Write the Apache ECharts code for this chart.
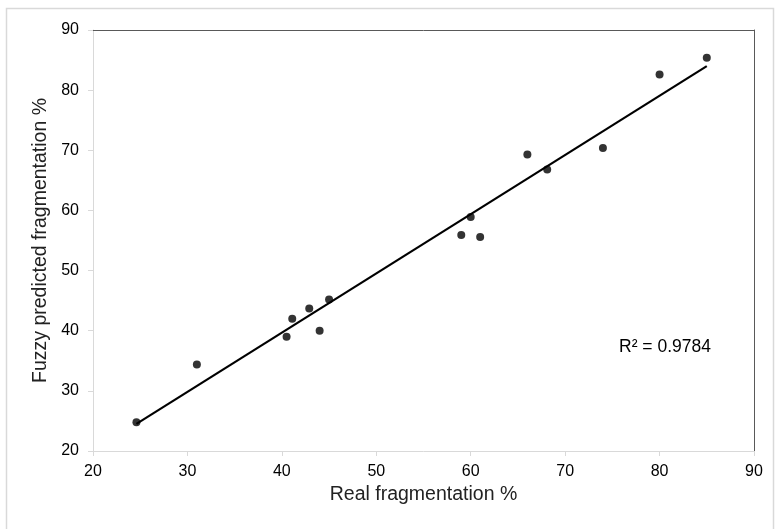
<!DOCTYPE html>
<html>
<head>
<meta charset="utf-8">
<script src="https://cdn.jsdelivr.net/npm/echarts@6/dist/echarts.min.js"></script>
<style>
  html, body { margin: 0; padding: 0; background: #fff; }
  #chart { width: 778px; height: 529px; }
</style>
</head>
<body>
<div id="chart"></div>
<script>
var realFrag  = [24.6, 31.0, 40.5, 41.1, 42.9, 44.0, 45.0, 59.0, 60.0, 61.0, 66.0, 68.1, 74.0, 80.0, 85.0];
var fuzzyFrag = [24.8, 34.4, 39.0, 42.0, 43.7, 40.0, 45.2, 55.9, 58.9, 55.6, 69.3, 66.8, 70.4, 82.6, 85.4];
var xTicks = [20, 30, 40, 50, 60, 70, 80, 90];
var yTicks = [20, 30, 40, 50, 60, 70, 80, 90];
var r2Label = 'R² = 0.9784';

// least squares trend line
function linFit (xs, ys) {
  var n = xs.length, sx = 0, sy = 0, sxx = 0, sxy = 0;
  for (var i = 0; i < n; i++) {
    sx += xs[i]; sy += ys[i];
    sxx += xs[i] * xs[i]; sxy += xs[i] * ys[i];
  }
  var b = (n * sxy - sx * sy) / (n * sxx - sx * sx);
  var a = (sy - b * sx) / n;
  return { a: a, b: b };
}

var fit = linFit(realFrag, fuzzyFrag);
var xMin = Math.min.apply(null, realFrag);
var xMax = Math.max.apply(null, realFrag);
var trend = [[xMin, fit.a + fit.b * xMin], [xMax, fit.a + fit.b * xMax]];

var points = realFrag.map(function (x, i) { return [x, fuzzyFrag[i]]; });

var font = 'Liberation Sans, Arial, sans-serif';
var lightLine = '#d9d9d9';
var darkLine = '#595959';

var myChart = echarts.init(document.getElementById('chart'));
var option = {
  animation: false,
  backgroundColor: '#fff',
  grid: { left: 93, right: 24, top: 30, bottom: 78 },
  graphic: [
    {
      type: 'rect',
      shape: { x: 6.5, y: 8.5, width: 767, height: 540 },
      style: { fill: null, stroke: lightLine, lineWidth: 1.5 },
      silent: true,
      z: -10
    },
    {
      type: 'text',
      left: 619, top: 338,
      style: { text: r2Label, font: '17.5px ' + font, fill: '#000' }
    }
  ],
  xAxis: [
    {
      type: 'value',
      min: xTicks[0], max: xTicks[xTicks.length - 1], interval: 10,
      name: 'Real fragmentation %',
      nameLocation: 'middle', nameGap: 31,
      nameTextStyle: { fontFamily: font, fontSize: 19.5, color: '#222' },
      axisLine: { lineStyle: { color: lightLine, width: 1 } },
      axisTick: { show: true, length: 5, lineStyle: { color: lightLine } },
      axisLabel: { fontFamily: font, fontSize: 16, color: '#000', margin: 13 },
      splitLine: { show: false }
    },
    {
      type: 'value', position: 'top',
      min: xTicks[0], max: xTicks[xTicks.length - 1],
      axisLine: { show: true, lineStyle: { color: darkLine, width: 1 } },
      axisTick: { show: false }, axisLabel: { show: false }, splitLine: { show: false }
    }
  ],
  yAxis: [
    {
      type: 'value',
      min: yTicks[0], max: yTicks[yTicks.length - 1], interval: 10,
      name: 'Fuzzy predicted fragmentation %',
      nameLocation: 'middle', nameGap: 40,
      nameTextStyle: { fontFamily: font, fontSize: 19.5, color: '#222' },
      axisLine: { show: true, lineStyle: { color: lightLine, width: 1 } },
      axisTick: { show: true, length: 5, lineStyle: { color: lightLine } },
      axisLabel: { fontFamily: font, fontSize: 16, color: '#000', margin: 14 },
      splitLine: { show: false }
    },
    {
      type: 'value', position: 'right',
      min: yTicks[0], max: yTicks[yTicks.length - 1],
      axisLine: { show: true, lineStyle: { color: darkLine, width: 1 } },
      axisTick: { show: false }, axisLabel: { show: false }, splitLine: { show: false }
    }
  ],
  series: [
    {
      name: 'trend',
      type: 'line',
      data: trend,
      symbol: 'none',
      lineStyle: { color: '#000', width: 2.2 },
      z: 2
    },
    {
      name: 'points',
      type: 'scatter',
      data: points,
      symbolSize: 8,
      itemStyle: { color: '#000' },
      z: 3
    }
  ]
};

myChart.setOption(option);
</script>
</body>
</html>
